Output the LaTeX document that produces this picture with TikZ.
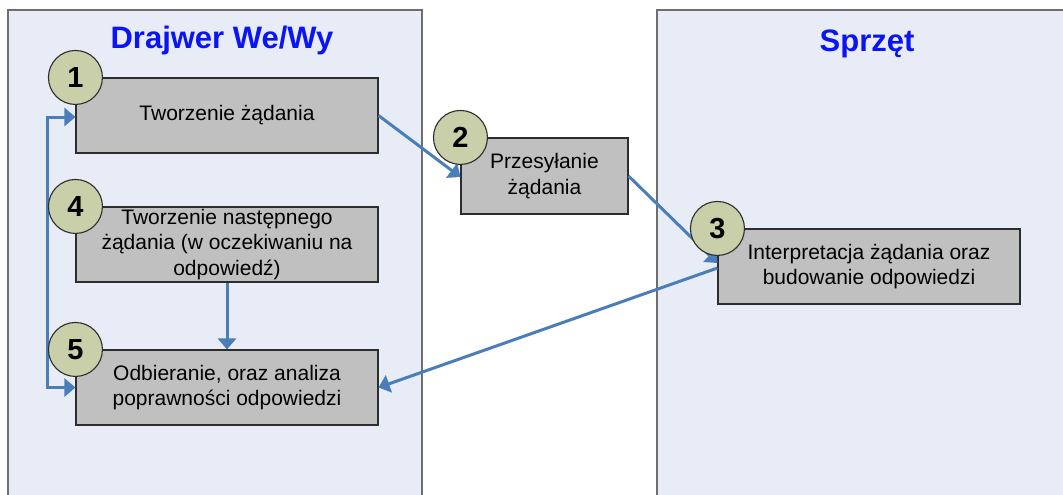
\documentclass[tikz,border=0pt]{standalone}
\usepackage{fontspec}
\setmainfont{Liberation Sans}
\usetikzlibrary{arrows.meta}
\definecolor{panelfill}{RGB}{232,236,247}
\definecolor{panelline}{RGB}{110,110,110}
\definecolor{boxfill}{RGB}{192,192,192}
\definecolor{boxline}{RGB}{45,45,45}
\definecolor{badgefill}{RGB}{201,207,168}
\definecolor{flow}{RGB}{74,126,187}
\definecolor{titleblue}{RGB}{10,20,245}
\tikzset{
  stepbox/.style={draw=boxline, line width=1.1pt, fill=boxfill, inner sep=0pt,
    minimum width=302pt, minimum height=75pt, align=center,
    font=\fontsize{21}{25.5}\selectfont},
  badge/.style={circle, draw=boxline, line width=1.1pt, fill=badgefill, inner sep=0pt,
    minimum size=54pt, font=\fontsize{29}{30}\selectfont\bfseries},
  paneltitle/.style={text=titleblue, font=\fontsize{31}{32}\selectfont\bfseries},
  tip/.style={Triangle[length=11pt,width=18pt]},
  flowarrow/.style={draw=flow, line width=3pt, -{Triangle[length=11pt,width=18pt]}},
}
\begin{document}
\begin{tikzpicture}[x=1pt,y=-1pt]
  \useasboundingbox (0,0) rectangle (1063,495);
  % swimlane panels
  \fill[panelfill] (8,10) rectangle (422,495);
  \draw[panelline, line width=1.5pt] (8,497) -- (8,10) -- (422,10) -- (422,497);
  \fill[panelfill] (657,10) rectangle (1063,495);
  \draw[panelline, line width=1.5pt] (657,497) -- (657,10) -- (1065,10);
  \node[paneltitle] (t1) at (222,40) {Drajwer We/Wy};
  \node[paneltitle] (t2) at (867,44) {Sprzęt};

  % process steps
  \node[stepbox] (b1) at (227,115.5) {Tworzenie żądania};
  \node[stepbox] (b4) at (227,244.5) {Tworzenie następnego\\żądania (w oczekiwaniu na\\odpowiedź)};
  \node[stepbox] (b5) at (227,387.5) {Odbieranie, oraz analiza\\poprawności odpowiedzi};
  \node[stepbox, minimum width=167pt, minimum height=76pt] (b2) at (544.5,176) {Przesyłanie\\żądania};
  \node[stepbox] (b3) at (869,266.5) {Interpretacja żądania oraz\\budowanie odpowiedzi};

  % connectors
  \draw[flowarrow] (b1.east) -- ([yshift=-1pt]b2.west);
  \draw[flowarrow] (b2.east) -- ([yshift=3.5pt]b3.west);
  \draw[flowarrow] ([yshift=-1.5pt]b3.west) -- (b5.east);
  \draw[flowarrow] (b4.south) -- (b5.north);
  \draw[flowarrow, {Triangle[length=11pt,width=18pt]}-{Triangle[length=11pt,width=18pt]}]
    ([yshift=-1.5pt]b1.west) -- ++(-28,0) |- (b5.west);

  % step numbers
  \node[badge] (n1) at (b1.north west) {1};
  \node[badge] (n2) at (b2.north west) {2};
  \node[badge] (n3) at (b3.north west) {3};
  \node[badge] (n4) at (b4.north west) {4};
  \node[badge] (n5) at (b5.north west) {5};
\end{tikzpicture}
\end{document}
